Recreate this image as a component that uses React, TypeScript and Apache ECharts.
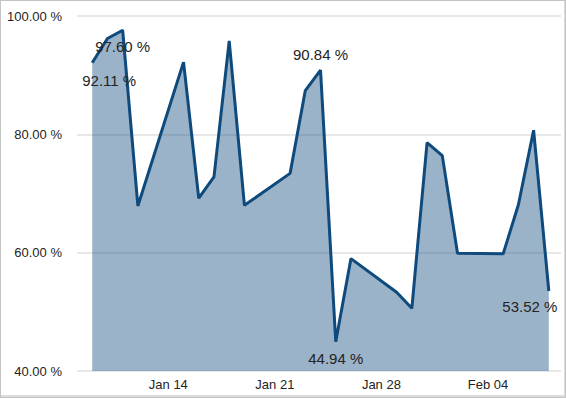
import React, { useEffect, useRef } from "react";
import * as echarts from "echarts";

const dates: string[] = [
  "2018-01-09", "2018-01-10", "2018-01-11", "2018-01-12", "2018-01-15",
  "2018-01-16", "2018-01-17", "2018-01-18", "2018-01-19", "2018-01-22",
  "2018-01-23", "2018-01-24", "2018-01-25", "2018-01-26", "2018-01-29",
  "2018-01-30", "2018-01-31", "2018-02-01", "2018-02-02", "2018-02-05",
  "2018-02-06", "2018-02-07", "2018-02-08",
];
const values: number[] = [
  92.11, 96.2, 97.6, 67.9, 92.2,
  69.2, 72.8, 95.8, 68.0, 73.4,
  87.4, 90.84, 44.94, 59.0, 53.3,
  50.6, 78.6, 76.4, 59.9, 59.8,
  68.1, 80.7, 53.52,
];
const tickDates: string[] = ["2018-01-14", "2018-01-21", "2018-01-28", "2018-02-04"];
const yTicks: number[] = [40, 60, 80, 100];

const MONTHS = ["Jan", "Feb", "Mar", "Apr", "May", "Jun", "Jul", "Aug", "Sep", "Oct", "Nov", "Dec"];
const DAY = 86400000;
const toTs = (s: string) => {
  const [y, m, d] = s.split("-").map(Number);
  return Date.UTC(y, m - 1, d);
};

// which points carry a value label, and where
const labelled: Record<number, { position: string; offset: number[]; distance: number }> = {
  0: { position: "bottom", offset: [17, 0], distance: 10 },
  2: { position: "bottom", offset: [0, 0], distance: 9 },
  11: { position: "top", offset: [0, 0], distance: 8 },
  12: { position: "bottom", offset: [0, 0], distance: 9 },
  22: { position: "bottom", offset: [-19, 0], distance: 8 },
};

export default function App() {
  const ref = useRef<HTMLDivElement>(null);
  useEffect(() => {
    document.body.style.margin = "0";
    if (!ref.current) return;
    const chart = echarts.init(ref.current, null, { renderer: "svg" });
    const font = "'Liberation Sans', Arial, sans-serif";
    const data = dates.map((d, i) => {
      const item: any = { value: [toTs(d), values[i]] };
      const l = labelled[i];
      if (l) {
        item.label = {
          show: true,
          position: l.position,
          offset: l.offset,
          distance: l.distance,
          formatter: (p: any) => p.value[1].toFixed(2) + " %",
          fontSize: 15,
          color: "#252423",
          fontFamily: font,
        };
      }
      return item;
    });
    const start = toTs(dates[0]) - DAY;
    chart.setOption({
      animation: false,
      grid: { left: 76, right: 4, top: 15, bottom: 26 },
      xAxis: {
        type: "value",
        min: start,
        max: start + 31.8 * DAY,
        axisLine: { show: false },
        axisTick: { show: false },
        splitLine: { show: false },
        axisLabel: {
          customValues: tickDates.map(toTs),
          formatter: (v: number) => {
            const dt = new Date(v);
            return MONTHS[dt.getUTCMonth()] + " " + String(dt.getUTCDate()).padStart(2, "0");
          },
          fontSize: 13,
          color: "#252423",
          fontFamily: font,
          margin: 7,
          hideOverlap: false,
        },
      },
      yAxis: {
        type: "value",
        min: yTicks[0],
        max: yTicks[yTicks.length - 1],
        interval: 20,
        axisLine: { show: false },
        axisTick: { show: false },
        splitLine: { lineStyle: { color: "#e8e8e8", width: 2 } },
        axisLabel: {
          formatter: (v: number) => v.toFixed(2) + " %",
          fontSize: 13,
          color: "#252423",
          fontFamily: font,
          margin: 15,
        },
      },
      series: [
        {
          type: "line",
          data,
          symbol: "circle",
          symbolSize: 0,
          showSymbol: true,
          showAllSymbol: true,
          lineStyle: { color: "#0f4a7c", width: 3 },
          itemStyle: { color: "#0f4a7c" },
          areaStyle: { color: "#0f4a7c", opacity: 0.42, origin: "start" },
          label: { show: false },
          z: 3,
        },
      ],
    });
    return () => chart.dispose();
  }, []);
  return (
    <div
      style={{
        width: 566,
        height: 398,
        boxSizing: "border-box",
        border: "1px solid #c4c4c4",
        boxShadow: "inset -1px -2px 0 #dcdcdc",
        background: "#fff",
      }}
    >
      <div ref={ref} style={{ width: 564, height: 396 }} />
    </div>
  );
}
